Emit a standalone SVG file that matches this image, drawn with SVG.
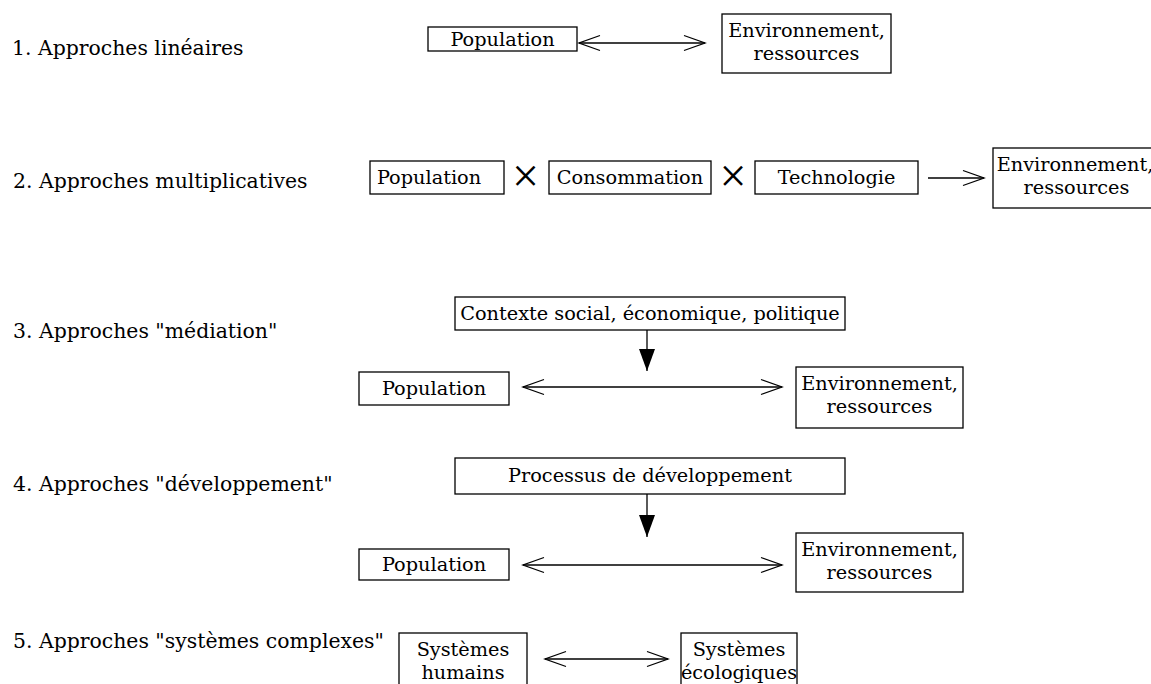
<svg xmlns="http://www.w3.org/2000/svg" width="1151" height="684" viewBox="0 0 1151 684">
<defs>
<style>
.lbl{font-family:"DejaVu Serif","Liberation Serif",serif;font-size:20.4px;fill:#000}
.bt{font-family:"DejaVu Serif","Liberation Serif",serif;font-size:19.3px;fill:#000;text-anchor:middle}
.box{fill:#fff;stroke:#000;stroke-width:1.3}
.ln{fill:none;stroke:#000;stroke-width:1.3}
.op{font-family:"Liberation Serif",serif;font-size:48px;fill:#000;text-anchor:middle}
</style>
<marker id="open" markerUnits="userSpaceOnUse" viewBox="0 0 24 18" markerWidth="24" markerHeight="18" refX="22" refY="9" orient="auto-start-reverse">
<path d="M1,1.5 L22,9 L1,16.5" fill="none" stroke="#000" stroke-width="1.3"/>
</marker>
<marker id="solid" markerUnits="userSpaceOnUse" viewBox="0 0 22 16" markerWidth="22" markerHeight="16" refX="22" refY="8" orient="auto">
<path d="M0,0 L22,8 L0,16 Z" fill="#000"/>
</marker>
</defs>
<rect width="1151" height="684" fill="#fff"/>

<g id="labels">
<text class="lbl" x="12" y="55">1. Approches linéaires</text>
<text class="lbl" x="13" y="188">2. Approches multiplicatives</text>
<text class="lbl" x="13" y="338">3. Approches "médiation"</text>
<text class="lbl" x="13" y="491">4. Approches "développement"</text>
<text class="lbl" x="13" y="648">5. Approches "systèmes complexes"</text>
</g>

<g id="connectors">
<line class="ln" x1="579" y1="43" x2="705" y2="43" marker-start="url(#open)" marker-end="url(#open)"/>
<line class="ln" x1="928" y1="178" x2="984" y2="178" marker-end="url(#open)"/>
<line class="ln" x1="647" y1="330" x2="647" y2="371" marker-end="url(#solid)"/>
<line class="ln" x1="523" y1="387" x2="782" y2="387" marker-start="url(#open)" marker-end="url(#open)"/>
<line class="ln" x1="647" y1="494" x2="647" y2="537" marker-end="url(#solid)"/>
<line class="ln" x1="523" y1="565" x2="782" y2="565" marker-start="url(#open)" marker-end="url(#open)"/>
<line class="ln" x1="545" y1="659" x2="668" y2="659" marker-start="url(#open)" marker-end="url(#open)"/>
</g>

<g id="operators">
<text class="op" x="525.5" y="192">×</text>
<text class="op" x="733" y="192">×</text>
</g>

<g id="r1-population"><rect class="box" x="428" y="27" width="149" height="24"/><text class="bt" x="502.5" y="46">Population</text></g>
<g id="r1-environnement"><rect class="box" x="722" y="14" width="169" height="59"/><text class="bt" x="806.5" y="37">Environnement,</text><text class="bt" x="806.5" y="60">ressources</text></g>

<g id="r2-population"><rect class="box" x="370" y="161" width="134" height="33"/><text class="bt" x="429" y="184">Population</text></g>
<g id="r2-consommation"><rect class="box" x="549" y="161" width="162" height="33"/><text class="bt" x="630" y="184">Consommation</text></g>
<g id="r2-technologie"><rect class="box" x="755" y="161" width="163" height="33"/><text class="bt" x="836.5" y="184">Technologie</text></g>
<g id="r2-environnement"><rect class="box" x="993" y="148" width="167" height="60"/><text class="bt" x="1075" y="171">Environnement,</text><text class="bt" x="1076.5" y="194">ressources</text></g>

<g id="r3-contexte"><rect class="box" x="455" y="297" width="390" height="33"/><text class="bt" x="650" y="320">Contexte social, économique, politique</text></g>
<g id="r3-population"><rect class="box" x="359" y="372" width="150" height="33"/><text class="bt" x="434" y="395">Population</text></g>
<g id="r3-environnement"><rect class="box" x="796" y="367" width="167" height="61"/><text class="bt" x="879.5" y="390">Environnement,</text><text class="bt" x="879.5" y="413">ressources</text></g>

<g id="r4-processus"><rect class="box" x="455" y="458" width="390" height="36"/><text class="bt" x="650" y="482">Processus de développement</text></g>
<g id="r4-population"><rect class="box" x="359" y="549" width="150" height="31"/><text class="bt" x="434" y="571">Population</text></g>
<g id="r4-environnement"><rect class="box" x="796" y="533" width="167" height="59"/><text class="bt" x="879.5" y="556">Environnement,</text><text class="bt" x="879.5" y="579">ressources</text></g>

<g id="r5-humains"><rect class="box" x="399" y="633" width="128" height="60"/><text class="bt" x="463" y="656">Systèmes</text><text class="bt" x="463" y="679">humains</text></g>
<g id="r5-ecologiques"><rect class="box" x="681" y="633" width="116" height="60"/><text class="bt" x="739" y="656">Systèmes</text><text class="bt" x="739" y="679">écologiques</text></g>
</svg>
